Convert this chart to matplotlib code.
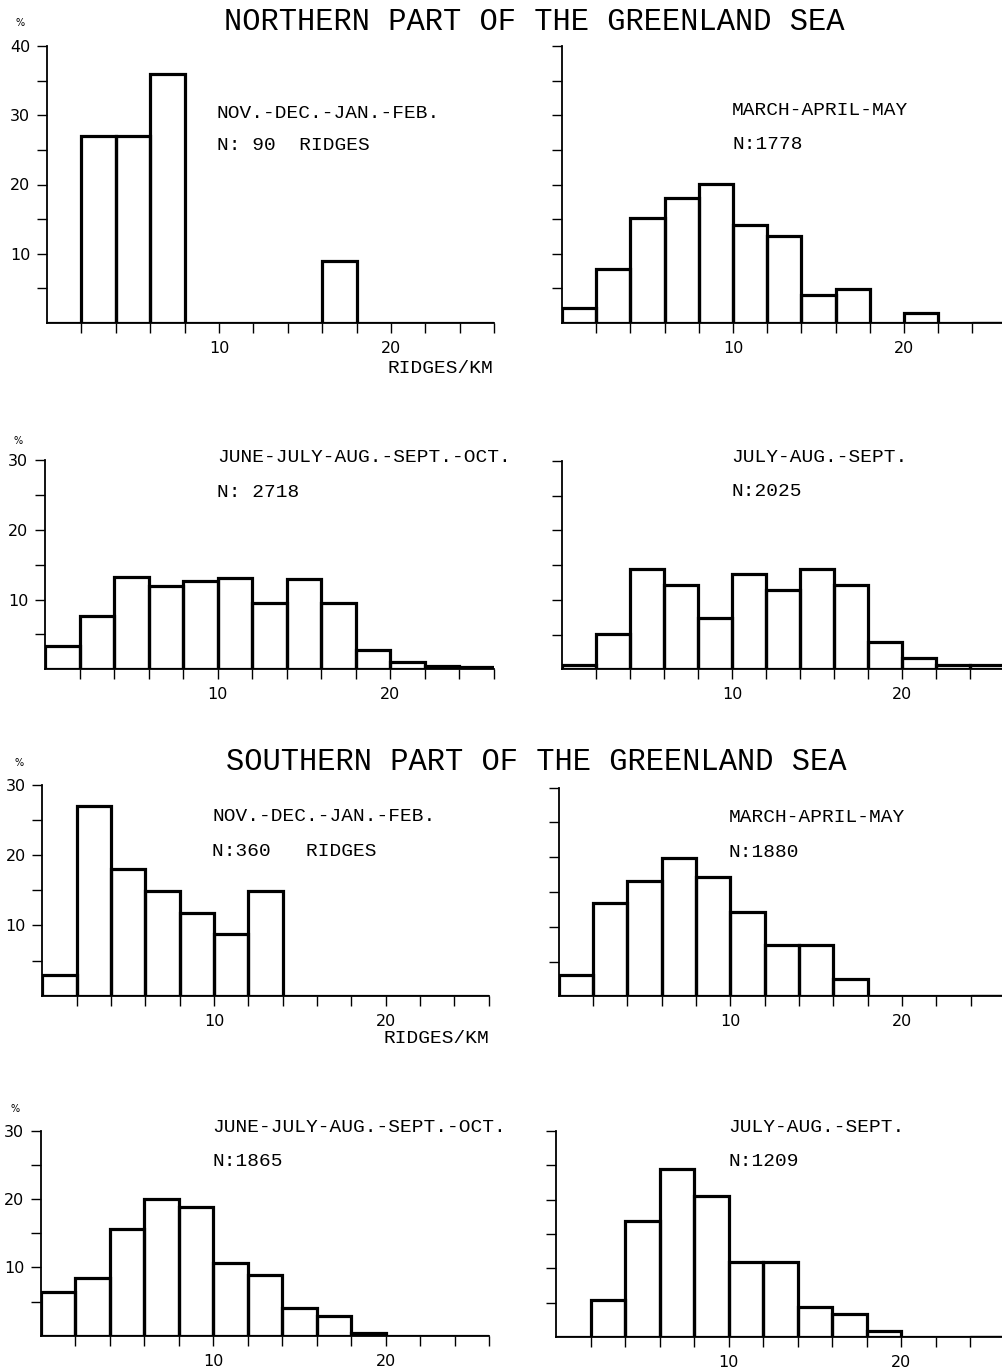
import matplotlib
matplotlib.use("Agg")
import matplotlib.pyplot as plt

# ---------------- data ----------------
bin_edges = [0, 2, 4, 6, 8, 10, 12, 14, 16, 18, 20, 22, 24, 26]   # ridges/km
x_tick_values = [2, 4, 6, 8, 10, 12, 14, 16, 18, 20, 22, 24, 26]
x_tick_labelled = [10, 20]

north_nov_feb = [0, 27, 27, 36, 0, 0, 0, 0, 9, 0, 0, 0, 0]
north_mar_may = [2.2, 7.8, 15.1, 18.1, 20.1, 14.2, 12.6, 4.0, 4.9, 0, 1.4, 0, 0]
north_jun_oct = [3.3, 7.6, 13.2, 12.0, 12.6, 13.1, 9.5, 13.0, 9.5, 2.7, 1.0, 0.5, 0.4]
north_jul_sep = [0.6, 5.1, 14.5, 12.2, 7.4, 13.7, 11.4, 14.5, 12.1, 4.0, 1.6, 0.6, 0.6]
south_nov_feb = [2.9, 27, 18, 14.9, 11.8, 8.8, 14.9, 0, 0, 0, 0, 0, 0]
south_mar_may = [3.1, 13.4, 16.6, 19.9, 17.2, 12.1, 7.4, 7.4, 2.5, 0, 0, 0, 0]
south_jun_oct = [6.4, 8.5, 15.6, 20.1, 18.8, 10.7, 8.9, 4.1, 2.9, 0.4, 0, 0, 0]
south_jul_sep = [0, 5.4, 16.9, 24.4, 20.5, 10.9, 10.9, 4.3, 3.3, 0.9, 0, 0, 0]

season_labels = ["NOV.-DEC.-JAN.-FEB.", "MARCH-APRIL-MAY",
                 "JUNE-JULY-AUG.-SEPT.-OCT.", "JULY-AUG.-SEPT.",
                 "NOV.-DEC.-JAN.-FEB.", "MARCH-APRIL-MAY",
                 "JUNE-JULY-AUG.-SEPT.-OCT.", "JULY-AUG.-SEPT."]
n_labels = ["N: 90  RIDGES", "N:1778", "N: 2718", "N:2025",
            "N:360   RIDGES", "N:1880", "N:1865", "N:1209"]
y_max = [40, 40, 30, 30, 30, 30, 30, 30]
series = [north_nov_feb, north_mar_may, north_jun_oct, north_jul_sep,
          south_nov_feb, south_mar_may, south_jun_oct, south_jul_sep]
titles = ["NORTHERN PART OF THE GREENLAND SEA", "SOUTHERN PART OF THE GREENLAND SEA"]
x_unit = "RIDGES/KM"
y_unit = "%"

# ---------------- layout (pixels) ----------------
W, H = 1002, 1371
# (x of data 0, px per unit, y of axis, y of top)
axes_px = [(47, 17.2, 323, 46), (562, 17.1, 323, 46),
           (45, 17.27, 669.3, 460), (562, 17.0, 669.3, 461),
           (42.3, 17.17, 995.7, 785), (558.5, 17.17, 996.3, 787.7),
           (41, 17.24, 1335.7, 1131), (556, 17.27, 1337, 1131)]
# text anchors: (x left, baseline season, baseline N)
text_px = [(217, 117.5, 150.5), (732, 115, 149),
           (217, 462, 496.7), (731.7, 461.7, 496),
           (212, 821, 856), (729, 821.7, 856.7),
           (212, 1132.3, 1165.7), (728.7, 1132.3, 1165.7)]
pct_px = [(20, 23), (18, 441), (19, 763), (15, 1109)]

MONO = "Liberation Mono"
SANS = "DejaVu Sans"

fig = plt.figure(figsize=(W / 100, H / 100), dpi=100)
fig.patch.set_facecolor("white")


def fx(x):
    return x / W


def fy(y):
    return 1 - y / H


for i, (vals, (x0, pxu, yb, yt)) in enumerate(zip(series, axes_px)):
    ax = fig.add_axes([fx(x0), fy(yb), 26 * pxu / W, (yb - yt) / H])
    ax.patch.set_visible(False)
    ax.bar(bin_edges[:-1], vals, width=2, align="edge", fill=False,
           edgecolor="black", linewidth=2.3, zorder=3)
    ax.set_xlim(bin_edges[0], bin_edges[-1])
    ax.set_ylim(0, y_max[i])
    for s in ("top", "right"):
        ax.spines[s].set_visible(False)
    for s in ("left", "bottom"):
        ax.spines[s].set_linewidth(1.3)
    ax.set_xticks(x_tick_values)
    ax.set_xticklabels([str(t) if t in x_tick_labelled else "" for t in x_tick_values],
                       fontfamily=SANS, fontsize=11.5)
    yt_vals = list(range(5, y_max[i] + 1, 5))
    ax.set_yticks(yt_vals)
    left_col = (i % 2 == 0)
    ax.set_yticklabels([str(v) if (left_col and v % 10 == 0) else "" for v in yt_vals],
                       fontfamily=SANS, fontsize=11.5)
    ax.tick_params(axis="x", direction="out", length=7, width=1.0, pad=6)
    ax.tick_params(axis="y", direction="out", length=7, width=1.0, pad=5)

    tx, b1, b2 = text_px[i]
    fig.text(fx(tx), fy(b1), season_labels[i], fontfamily=MONO, fontsize=14,
             ha="left", va="baseline")
    fig.text(fx(tx), fy(b2), n_labels[i], fontfamily=MONO, fontsize=14,
             ha="left", va="baseline")

# titles
fig.text(fx(534), fy(30), titles[0], fontfamily=MONO, fontsize=22, ha="center", va="baseline")
fig.text(fx(536), fy(770), titles[1], fontfamily=MONO, fontsize=22, ha="center", va="baseline")

# x unit labels
fig.text(fx(493), fy(372.7), x_unit, fontfamily=MONO, fontsize=14, ha="right", va="baseline")
fig.text(fx(489), fy(1043), x_unit, fontfamily=MONO, fontsize=14, ha="right", va="baseline")

# percent signs
for (px, py) in pct_px:
    fig.text(fx(px), fy(py), y_unit, fontfamily=SANS, fontsize=7, ha="center", va="center")

fig.savefig("out.png", dpi=100, facecolor="white")
